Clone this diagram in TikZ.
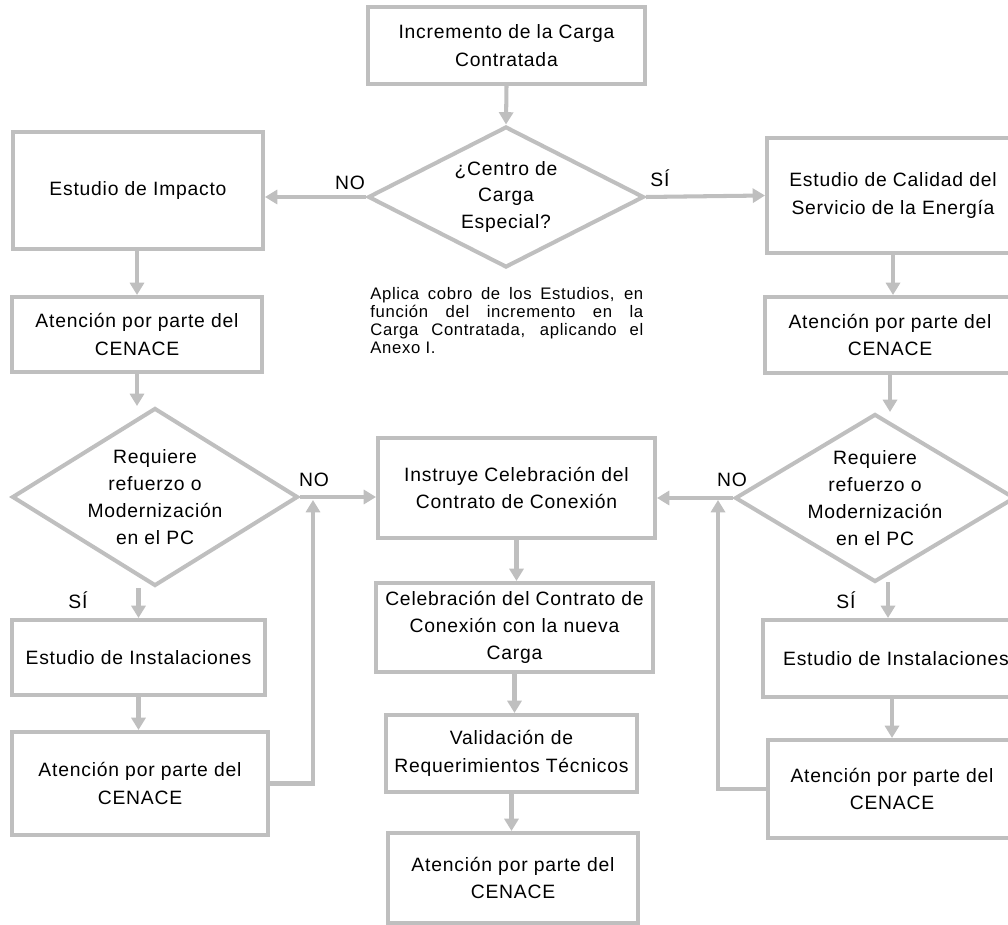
\documentclass[tikz,border=0pt]{standalone}
\usepackage{fontspec}
\setmainfont{Liberation Sans}[LetterSpace=4]
\usetikzlibrary{shapes.geometric,arrows.meta}

\begin{document}
\begin{tikzpicture}[x=0.02cm,y=-0.02cm,
    caja/.style={draw=ogris,line width=2.3pt,align=center,inner sep=2pt,font=\fontsize{11}{15.5}\selectfont},
    rombo/.style={diamond,draw=ogris,line width=2.3pt,inner sep=0pt,aspect=2},
    texto/.style={align=center,font=\fontsize{11}{15.3}\selectfont},
    flecha/.style={draw=ogris,line width=2.3pt,-{Triangle[width=8pt,length=7pt]}},
    etiq/.style={font=\fontsize{11}{12}\selectfont}]
\definecolor{ogris}{RGB}{191,191,191}

\clip (0,0) rectangle (1008,925);

% Inicio
\node[caja,minimum width=5.54cm,minimum height=1.54cm] (inc) at (506.5,45.5) {Incremento de la Carga\\Contratada};
\node[rombo,minimum width=5.52cm,minimum height=2.82cm] (cce) at (506,197) {};
\node[texto] (ccet) at (cce) {¿Centro de\\Carga\\Especial?};
\node[align=justify,text width=5.46cm,inner sep=0pt,anchor=north west,font=\fontsize{9.5}{10.2}\selectfont] (cobro) at (370,287)
    {Aplica cobro de los Estudios, en\linebreak función del incremento en la\linebreak Carga Contratada, aplicando el\linebreak Anexo I.};

% Rama izquierda
\node[caja,minimum width=5cm,minimum height=2.34cm] (imp) at (138,190.5) {Estudio de Impacto};
\node[caja,minimum width=5cm,minimum height=1.5cm] (latt) at (137,334.5) {Atención por parte del\\CENACE};
\node[rombo,minimum width=5.72cm,minimum height=3.56cm] (ldec) at (155,497) {};
\node[texto] (ldect) at (ldec) {Requiere\\refuerzo o\\Modernización\\en el PC};
\node[caja,minimum width=5.06cm,minimum height=1.5cm] (lins) at (138.5,657.5) {Estudio de Instalaciones};
\node[caja,minimum width=5.12cm,minimum height=2.06cm] (latt2) at (140,783.5) {Atención por parte del\\CENACE};
\coordinate (lj) at (313,500);

% Centro
\node[caja,minimum width=5.54cm,minimum height=2cm] (inst) at (516.5,488) {Instruye Celebración del\\Contrato de Conexión};
\node[caja,minimum width=5.54cm,minimum height=1.78cm] (cele) at (514.5,627.5) {Celebración del Contrato de\\Conexión con la nueva\\Carga};
\node[caja,minimum width=5.02cm,minimum height=1.54cm] (vali) at (511.5,753.5) {Validación de\\Requerimientos Técnicos};
\node[caja,minimum width=5cm,minimum height=1.8cm] (fatt) at (513,878) {Atención por parte del\\CENACE};

% Rama derecha
\node[caja,minimum width=5.04cm,minimum height=2.3cm] (cal) at (893,195.5) {Estudio de Calidad del\\Servicio de la Energía};
\node[caja,minimum width=5cm,minimum height=1.52cm] (catt) at (890,335) {Atención por parte del\\CENACE};
\node[rombo,minimum width=5.6cm,minimum height=3.36cm] (rdec) at (875,498) {};
\node[texto] (rdect) at (rdec) {Requiere\\refuerzo o\\Modernización\\en el PC};
\node[caja,minimum width=5.32cm,minimum height=1.54cm] (rins) at (896,658.5) {Estudio de Instalaciones};
\node[caja,minimum width=4.96cm,minimum height=1.96cm] (ratt2) at (892,789) {Atención por parte del\\CENACE};
\coordinate (rj) at (718,500);
\coordinate (rs) at (888,582);

% Etiquetas
\node[etiq] (no1) at (350,183) {NO};
\node[etiq] (si1) at (660,178) {SÍ};
\node[etiq] (no2) at (314,480) {NO};
\node[etiq] (si2) at (78,600) {SÍ};
\node[etiq] (no3) at (732,480) {NO};
\node[etiq] (si3) at (846,600) {SÍ};

% Flechas
\draw[flecha] (inc.south) -- (cce.north);
\draw[flecha] (cce.west) -- (cce.west -| imp.east);
\draw[flecha] (cce.east) -- (cal.west);
\draw[flecha] (imp.south -| latt.north) -- (latt.north);
\draw[flecha] (latt.south) -- (latt.south |- ldec.north);
\draw[flecha] (ldec.south -| lins.north) -- (lins.north);
\draw[flecha] (lins.south) -- (lins.south |- latt2.north);
\draw[flecha] (latt2.east) -| (lj);
\draw[flecha] (ldec.east) -- (ldec.east -| inst.west);
\draw[flecha] (inst.south) -- (inst.south |- cele.north);
\draw[flecha] (cele.south) -- (cele.south |- vali.north);
\draw[flecha] (vali.south) -- (vali.south |- fatt.north);
\draw[flecha] (cal.south) -- (cal.south |- catt.north);
\draw[flecha] (catt.south) -- (catt.south |- rdec.north);
\draw[flecha] (rdec.west) -- (rdec.west -| inst.east);
\draw[flecha] (rs) -- (rs |- rins.north);
\draw[flecha] (rins.south -| ratt2.north) -- (ratt2.north);
\draw[flecha] (ratt2.west) -| (rj);
\end{tikzpicture}
\end{document}
